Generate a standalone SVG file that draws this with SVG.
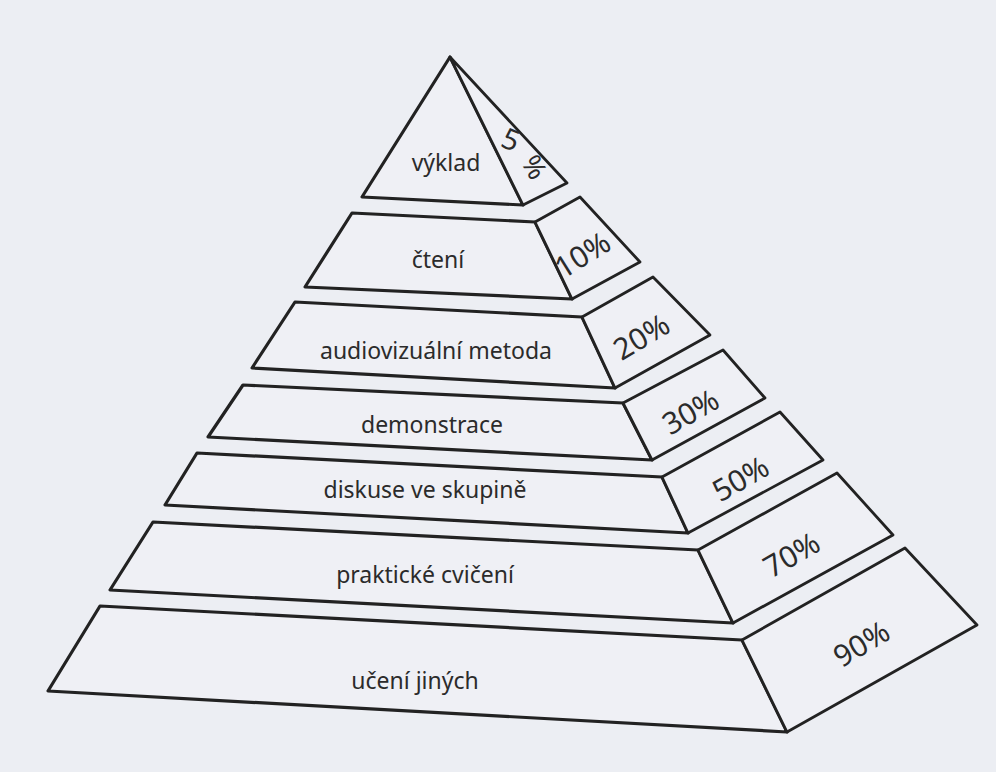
<svg xmlns="http://www.w3.org/2000/svg" width="996" height="772" viewBox="0 0 996 772">
<style>
.f{fill:#eff0f5;stroke:#222;stroke-width:3.2;stroke-linejoin:round}
.s{fill:#eff0f5;stroke:#222;stroke-width:2.8;stroke-linejoin:round}
.t{font-family:"Noto Sans","DejaVu Sans",sans-serif;font-size:23px;fill:#2b2b2b;text-anchor:middle}
.p{font-family:"Noto Sans","DejaVu Sans",sans-serif;font-size:30px;fill:#2b2b2b;text-anchor:middle}
</style>
<rect width="996" height="772" fill="#eceef3"/>
<g id="tier1">
<polygon class="f" points="450,57 523,205 362,197"/>
<polygon class="s" points="450,57 567,183 523,205"/>
<text class="t" x="446" y="171">výklad</text>
<text class="p" x="0" y="0" transform="translate(507,149) rotate(22)" style="font-size:29px">5</text>
<text class="p" x="0" y="0" transform="translate(526,172) rotate(60)" style="font-size:27px">%</text>
</g>
<g id="tier2">
<polygon class="f" points="352,213 535,222 572,299 305,287"/>
<polygon class="s" points="535,222 580,197 640,262 572,299"/>
<text class="t" x="438" y="268">čtení</text>
<text class="p" x="0" y="0" transform="translate(588,264) rotate(-32)">10%</text>
</g>
<g id="tier3">
<polygon class="f" points="295,302 582,317 615,388 252,368"/>
<polygon class="s" points="582,317 653,277 710,335 615,388"/>
<text class="t" x="436" y="359">audiovizuální metoda</text>
<text class="p" x="0" y="0" transform="translate(647,346) rotate(-31)">20%</text>
</g>
<g id="tier4">
<polygon class="f" points="243,385 623,403 652,460 208,437"/>
<polygon class="s" points="623,403 723,350 765,398 652,460"/>
<text class="t" x="432" y="433">demonstrace</text>
<text class="p" x="0" y="0" transform="translate(696,421) rotate(-30)">30%</text>
</g>
<g id="tier5">
<polygon class="f" points="197,453 662,477 688,533 165,505"/>
<polygon class="s" points="662,477 780,412 823,460 688,533"/>
<text class="t" x="425" y="498">diskuse ve skupině</text>
<text class="p" x="0" y="0" transform="translate(746,488) rotate(-30)">50%</text>
</g>
<g id="tier6">
<polygon class="f" points="153,522 698,550 733,623 110,590"/>
<polygon class="s" points="698,550 837,473 893,535 733,623"/>
<text class="t" x="425" y="583">praktické cvičení</text>
<text class="p" x="0" y="0" transform="translate(797,564) rotate(-30)">70%</text>
</g>
<g id="tier7">
<polygon class="f" points="100,606 742,640 787,732 48,691"/>
<polygon class="s" points="742,640 905,548 977,625 787,732"/>
<text class="t" x="415" y="689">učení jiných</text>
<text class="p" x="0" y="0" transform="translate(867,653) rotate(-31)">90%</text>
</g>
</svg>
